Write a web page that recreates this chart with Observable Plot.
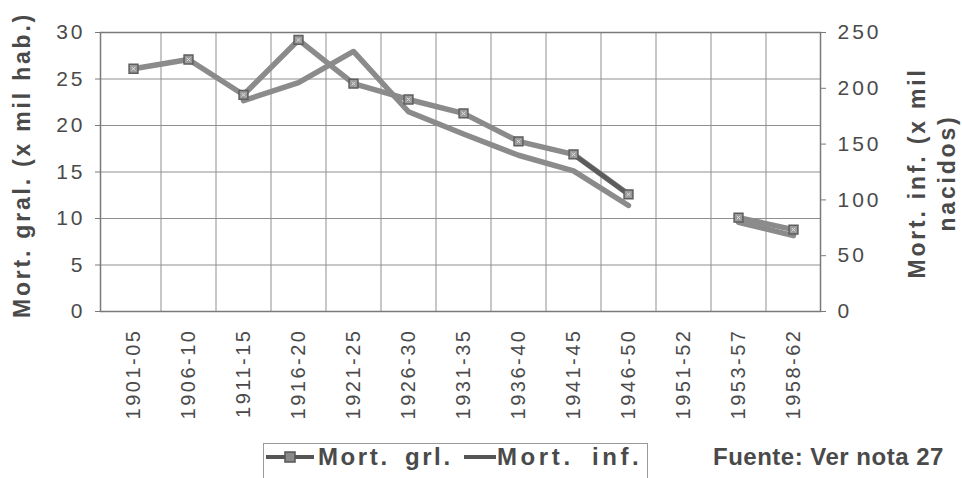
<!DOCTYPE html>
<html>
<head>
<meta charset="utf-8">
<script src="https://cdn.jsdelivr.net/npm/d3@7"></script>
<script src="https://cdn.jsdelivr.net/npm/@observablehq/plot@0.6"></script>
<style>
  html, body { margin: 0; padding: 0; background: #fff; }
  #wrap { position: relative; width: 962px; height: 478px; overflow: hidden; font-family: "Liberation Sans", Arial, Helvetica, sans-serif; color: #4a4a4a; }
  #chart svg { display: block; }
  #legend { position: absolute; left: 263px; top: 443px; width: 385px; height: 44px; border: 1.5px solid #9a9a9a; box-sizing: border-box; font-weight: bold; font-size: 24px; line-height: 26px; letter-spacing: 2.6px; word-spacing: 6px; display: flex; align-items: flex-start; padding-top: 0px; white-space: nowrap; color: #4a4a4a; }
  #legend svg { display: block; margin-top: 3px; flex: none; }
  #legend span { display: block; flex: none; }
  #source { position: absolute; left: 713px; top: 443px; font-weight: bold; font-size: 24px; letter-spacing: 0.5px; color: #4a4a4a; white-space: nowrap; }
</style>
</head>
<body>
<div id="wrap">
  <div id="chart"></div>
  <div id="legend"></div>
  <div id="source"></div>
</div>
<script>
// ---- data ----
const periods = ["1901-05", "1906-10", "1911-15", "1916-20", "1921-25", "1926-30", "1931-35", "1936-40", "1941-45", "1946-50", "1951-52", "1953-57", "1958-62"];
const mortGral = [26.1, 27.1, 23.3, 29.2, 24.5, 22.8, 21.3, 18.3, 16.9, 12.6, null, 10.1, 8.8];
const mortInf = [null, null, 189, 205, 233, 179, 159, 140, 126, 95, null, 80, 68];
const leftTicks = [0, 5, 10, 15, 20, 25, 30];
const rightTicks = [0, 50, 100, 150, 200, 250];
const leftTitle = "Mort. gral. (x mil hab.)";
const rightTitle = "Mort. inf. (x mil\nnacidos)";
const legendLabels = ["Mort. grl.", "Mort. inf."];
const sourceText = "Fuente: Ver nota 27";

const leftMax = 30, rightMax = 250;
const toLeft = v => v * leftMax / rightMax;

const rows = periods.map((p, i) => ({period: p, gral: mortGral[i], inf: mortInf[i]}));

const W = 962, H = 478;
const mL = 100, mR = 142, mT = 32, mB = 167, inset = 5;
const step = (W - mL - mR - inset) / periods.length;

const lineColor = "#8b8b8b";
const gridColor = "#8f8f8f";
const textColor = "#4a4a4a";
const font = '"Liberation Sans", Arial, Helvetica, sans-serif';

const chart = Plot.plot({
  width: W,
  height: H,
  marginLeft: mL,
  marginRight: mR,
  marginTop: mT,
  marginBottom: mB,
  style: {fontFamily: font, fontSize: "20px", color: textColor, background: "transparent", overflow: "visible"},
  x: {type: "point", domain: periods, padding: 0.5, insetLeft: inset},
  y: {domain: [0, leftMax]},
  marks: [
    Plot.gridY(leftTicks, {stroke: gridColor, strokeOpacity: 1, strokeWidth: 1}),
    Plot.ruleX(periods.slice(1), {x: d => d, dx: -step / 2, stroke: gridColor, strokeWidth: 1}),
    Plot.frame({stroke: "#7a7a7a", strokeWidth: 1.5}),
    Plot.axisY(leftTicks, {anchor: "left", tickSize: 5, tickPadding: 10, stroke: "#7a7a7a", fontSize: 21, label: null}),
    Plot.axisY(rightTicks.map(toLeft), {anchor: "right", tickSize: 5, tickPadding: 12, stroke: "#7a7a7a", fontSize: 21, label: null,
      tickFormat: d => String(Math.round(d * rightMax / leftMax))}),
    Plot.axisX(periods, {anchor: "bottom", tickSize: 0, tickPadding: 17, tickRotate: -90, fontSize: 20, label: null}),
    Plot.line(rows, {x: "period", y: d => d.inf == null ? NaN : toLeft(d.inf), stroke: lineColor, strokeWidth: 5.5, strokeLinejoin: "round", strokeLinecap: "round"}),
    Plot.line(rows, {x: "period", y: d => d.gral == null ? NaN : d.gral, stroke: lineColor, strokeWidth: 5.5, strokeLinejoin: "round", strokeLinecap: "round"}),
    Plot.line(rows.slice(8, 10), {x: "period", y: "gral", stroke: "#5c5c5c", strokeWidth: 4.5, strokeLinecap: "round"}),
    Plot.dot(rows.filter(d => d.gral != null), {x: "period", y: "gral", symbol: "square", r: 5, fill: "#9a9a9a", stroke: "#5e5e5e", strokeWidth: 1.5}),
    Plot.dot(rows.filter(d => d.gral != null), {x: "period", y: "gral", symbol: "times", r: 1.8, stroke: "#e0e0e0", strokeWidth: 1}),
    Plot.text([leftTitle], {frameAnchor: "left", textAnchor: "middle", lineAnchor: "middle", dx: -78, dy: -7, rotate: -90, fontSize: 23, fontWeight: "bold", fill: textColor}),
    Plot.text([rightTitle], {frameAnchor: "right", textAnchor: "middle", lineAnchor: "middle", dx: 110, dy: 1, rotate: -90, fontSize: 23, fontWeight: "bold", lineHeight: 1.3, fill: textColor})
  ]
});
chart.querySelectorAll("text").forEach(t => {
  const s = t.textContent;
  if (/^\d{4}-\d\d$/.test(s)) t.style.letterSpacing = "2.5px";
  else if (/^\d+$/.test(s)) t.style.letterSpacing = "3px";
});
chart.querySelectorAll("text").forEach(t => {
  if (t.textContent.includes("Mort.") || t.textContent.includes("nacidos")) t.style.letterSpacing = "2.8px";
});
document.getElementById("chart").appendChild(chart);

// legend
const legend = document.getElementById("legend");
function swatch(withMarker) {
  const ns = "http://www.w3.org/2000/svg";
  const s = document.createElementNS(ns, "svg");
  s.setAttribute("width", withMarker ? 50 : 34);
  s.setAttribute("height", 20);
  const l = document.createElementNS(ns, "line");
  l.setAttribute("x1", 1); l.setAttribute("x2", withMarker ? 49 : 33);
  l.setAttribute("y1", 10); l.setAttribute("y2", 10);
  l.setAttribute("stroke", "#555"); l.setAttribute("stroke-width", 4);
  s.appendChild(l);
  if (withMarker) {
    const r = document.createElementNS(ns, "rect");
    r.setAttribute("x", 20); r.setAttribute("y", 5); r.setAttribute("width", 10); r.setAttribute("height", 10);
    r.setAttribute("fill", "#8a8a8a"); r.setAttribute("stroke", "#555"); r.setAttribute("stroke-width", 1.5);
    s.appendChild(r);
  }
  return s;
}
const s1 = swatch(true); s1.style.marginLeft = "1px"; s1.style.marginRight = "3px";
legend.appendChild(s1);
const t1 = document.createElement("span"); t1.textContent = legendLabels[0]; t1.style.width = "145px";
legend.appendChild(t1);
const s2 = swatch(false);
legend.appendChild(s2);
const t2 = document.createElement("span"); t2.textContent = legendLabels[1]; t2.style.letterSpacing = "3.6px"; t2.style.wordSpacing = "8px";
legend.appendChild(t2);

document.getElementById("source").textContent = sourceText;
</script>
</body>
</html>
